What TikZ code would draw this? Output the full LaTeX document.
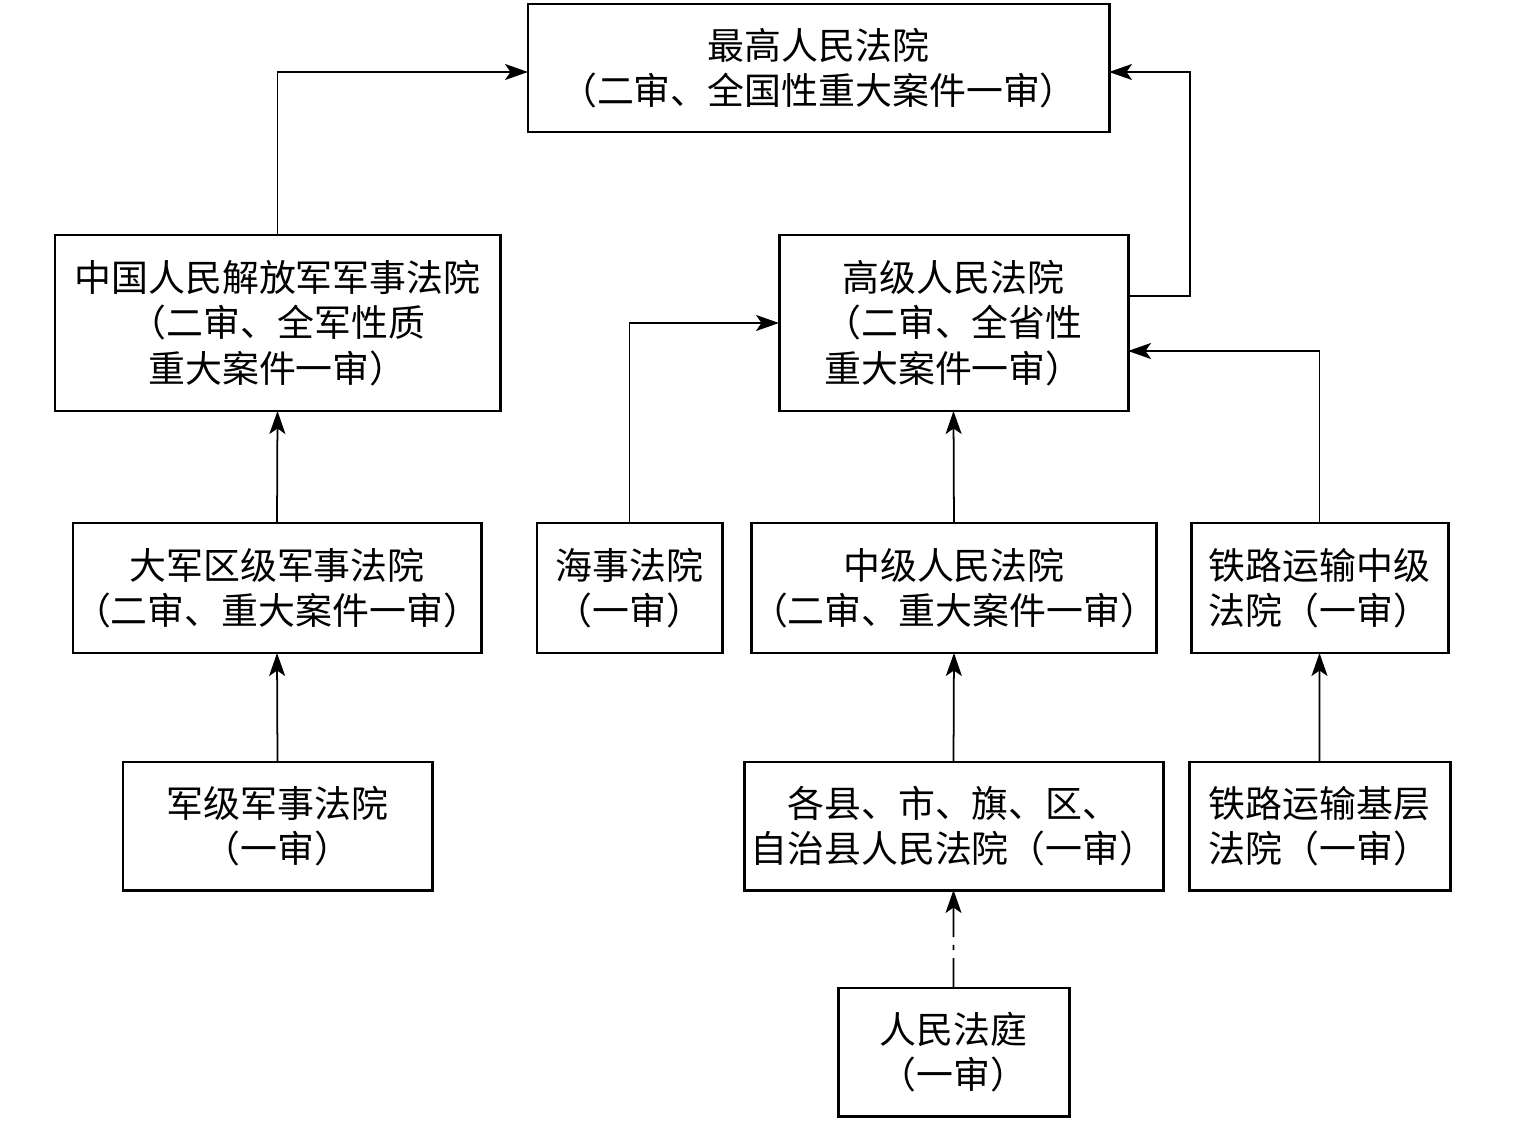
\documentclass[tikz,border=0pt]{standalone}
\usepackage{fontspec}
\setmainfont{Noto Sans CJK SC}
\usetikzlibrary{arrows.meta}

\tikzset{
  court/.style={draw, line width=1.7pt, outer sep=0, inner sep=0, align=center, anchor=north west,
    font=\fontsize{21pt}{25.8pt}\selectfont},
  link/.style={line width=1pt, -{Stealth[length=0.46cm, width=0.32cm, inset=0.11cm]}}
}

\begin{document}
\begin{tikzpicture}[x=0.2mm, y=-0.2mm]
        \useasboundingbox (0,0) rectangle (1527,1139);

        % top
        \draw (528,4) node[court, minimum width=11.62cm, minimum height=2.56cm] (spc) {最高人民法院\\（二审、全国性重大案件一审）};

        % military line
        \draw (55,235) node[court, minimum width=8.9cm, minimum height=3.52cm] (mil-c) {中国人民解放军军事法院\\（二审、全军性质\\重大案件一审）};
        \draw (73,523) node[court, minimum width=8.16cm, minimum height=2.6cm] (region-c) {大军区级军事法院\\（二审、重大案件一审）};
        \draw (123,762) node[court, minimum width=6.18cm, minimum height=2.56cm] (army-c) {军级军事法院\\（一审）};

        % local line
        \draw (779,235) node[court, minimum width=6.98cm, minimum height=3.52cm] (high-c) {高级人民法院\\（二审、全省性\\重大案件一审）};
        \draw (537,523) node[court, minimum width=3.7cm, minimum height=2.6cm] (sea-c) {海事法院\\（一审）};
        \draw (751,523) node[court, minimum width=8.1cm, minimum height=2.6cm] (mid-c) {中级人民法院\\（二审、重大案件一审）};
        \draw (744,762) node[court, minimum width=8.38cm, minimum height=2.56cm] (county-c) {各县、市、旗、区、\\自治县人民法院（一审）};
        \draw (838,988) node[court, minimum width=4.62cm, minimum height=2.56cm] (tribunal) {人民法庭\\（一审）};

        % railway line
        \draw (1191,523) node[court, minimum width=5.14cm, minimum height=2.6cm] (rail-mid) {铁路运输中级\\法院（一审）};
        \draw (1189,762) node[court, minimum width=5.22cm, minimum height=2.56cm] (rail-base) {铁路运输基层\\法院（一审）};

        % connectors
        \draw[link] (mil-c.north) |- ([yshift=-0.08cm]spc.west);
        \draw[link] ([yshift=0.54cm]high-c.east) -- ++(1.24cm,0) |- ([yshift=-0.08cm]spc.east);
        \draw[link] (sea-c.north) |- (high-c.west);
        \draw[link] (rail-mid.north) |- ([yshift=-0.56cm]high-c.east);
        \draw[link] (region-c.north) -- (mil-c.south);
        \draw[link] (army-c.north) -- (region-c.south);
        \draw[link] (mid-c.north) -- (high-c.south);
        \draw[link] (county-c.north) -- (mid-c.south);
        \draw[link] (rail-base.north) -- (rail-mid.south);
        \draw[link, dash pattern=on 17pt off 4.5pt on 3pt off 4.5pt] (tribunal.north) -- (county-c.south);
      \end{tikzpicture}
\end{document}
